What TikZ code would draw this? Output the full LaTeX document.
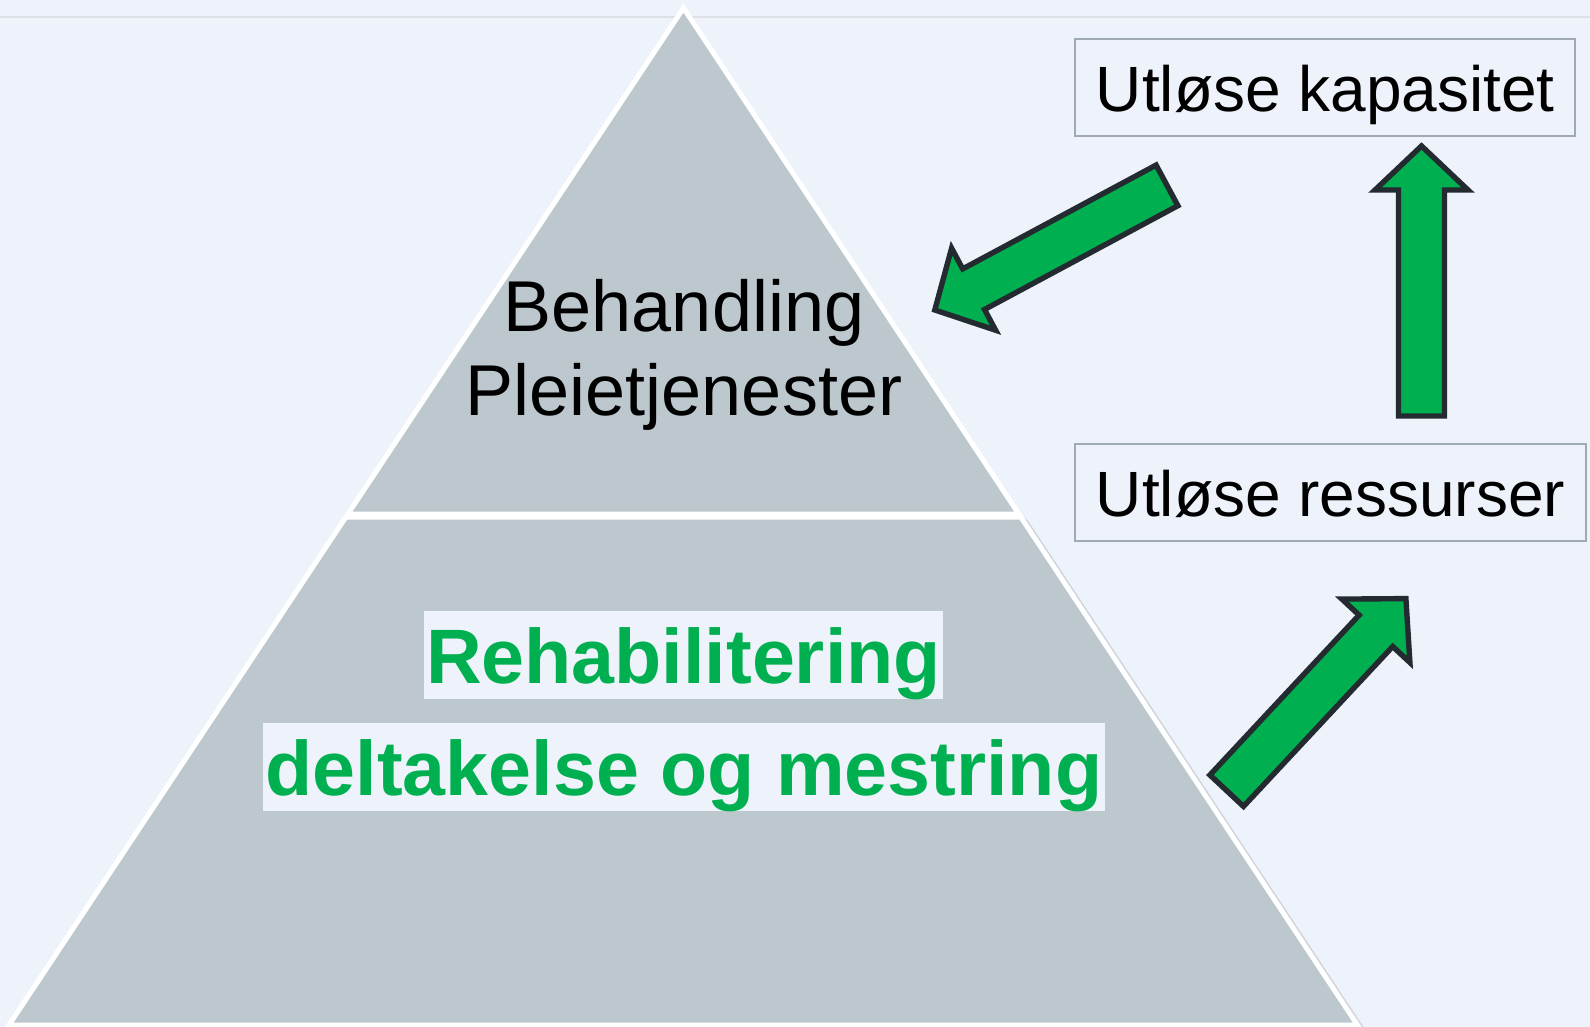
\documentclass[tikz,border=0pt]{standalone}
\usepackage{fontspec}
\setmainfont{Liberation Sans}
\definecolor{bgcol}{RGB}{238,242,250}
\definecolor{toplinecol}{RGB}{221,225,231}
\definecolor{pyrgray}{RGB}{189,200,206}
\definecolor{shadowcol}{RGB}{120,128,136}
\definecolor{boxgray}{RGB}{160,170,178}
\definecolor{arrowgreen}{RGB}{0,176,80}
\definecolor{arrowline}{RGB}{35,42,48}
\begin{document}
\begin{tikzpicture}[x=0.5pt,y=0.5pt,yscale=-1,xscale=1,
  pyramid/.style={fill=pyrgray,draw=white,line width=2.5pt,line join=miter},
  pshadow/.style={fill=shadowcol,draw=shadowcol,line width=2.5pt,opacity=0.1},
  greenarrow/.style={fill=arrowgreen,draw=arrowline,line width=2.7pt,line join=miter},
  capbox/.style={draw=boxgray,line width=1pt,anchor=west,inner xsep=10.4pt,inner ysep=5pt,
    text height=31pt,text depth=7.25pt,font=\fontsize{32}{38}\selectfont},
  greentext/.style={fill=bgcol,text=arrowgreen,anchor=base,inner xsep=1.2pt,inner ysep=0pt,
    text height=36.2pt,text depth=8pt,font=\fontsize{38.6}{46}\selectfont\bfseries},
  blacktext/.style={anchor=base,inner sep=0pt,font=\fontsize{36}{43}\selectfont}]
\useasboundingbox (0,0) rectangle (1590,1027);
\fill[bgcol] (0,0) rectangle (1590,1027);

%Straight Lines: top rule
\draw[toplinecol,line width=1pt] (0,17.3) -- (1590,17.3);

%Shape: Trapezoid, shadow
\filldraw[pshadow] (347.4,518.5) -- (1022.3,518.5) -- (1359,1026.5) -- (10.5,1026.5) -- cycle;
\filldraw[pshadow] (348.9,520) -- (1023.8,520) -- (1360.5,1028) -- (12,1028) -- cycle;
\filldraw[pshadow] (350.4,521.5) -- (1025.3,521.5) -- (1362,1029.5) -- (13.5,1029.5) -- cycle;
\filldraw[pshadow] (351.9,523) -- (1026.8,523) -- (1363.5,1031) -- (15,1031) -- cycle;
%Shape: Trapezoid
\filldraw[pyramid] (345.9,517) -- (1020.8,517) -- (1357.5,1025) -- (9,1025) -- cycle;
%Shape: Triangle
\filldraw[pyramid] (683.5,8) -- (1018.8,514) -- (347.9,514) -- cycle;

% Text Node
\node[blacktext] (behandling) at (684,331) {Behandling};
% Text Node
\node[blacktext] (pleie) at (684,415) {Pleietjenester};
% Text Node
\node[greentext] (rehab) at (683.4,683.3) {Rehabilitering};
% Text Node
\node[greentext] (deltakelse) at (684,795) {deltakelse og mestring};

% Text Node
\node[capbox] (kapasitet) at (1074,87.7) {Utløse kapasitet};
% Text Node
\node[capbox] (ressurser) at (1074,492.3) {Utløse ressurser};

%Shape: Right Arrow (down left)
\filldraw[greenarrow] (1156.1,165.1) -- (962.7,268.9) -- (951.6,248.2) -- (934.8,310)
  -- (995.6,330.2) -- (984.5,309.5) -- (1177.9,205.7) -- cycle;
%Shape: Right Arrow (up)
\filldraw[greenarrow] (1398.5,416) -- (1398.5,190) -- (1375,190) -- (1421.5,146)
  -- (1468,190) -- (1444.5,190) -- (1444.5,416) -- cycle;
%Shape: Right Arrow (up right)
\filldraw[greenarrow] (1209.9,775) -- (1359.1,615.1) -- (1341.9,599.1) -- (1405.9,598.6)
  -- (1409.9,662.5) -- (1392.7,646.5) -- (1243.5,806.4) -- cycle;

\end{tikzpicture}
\end{document}
